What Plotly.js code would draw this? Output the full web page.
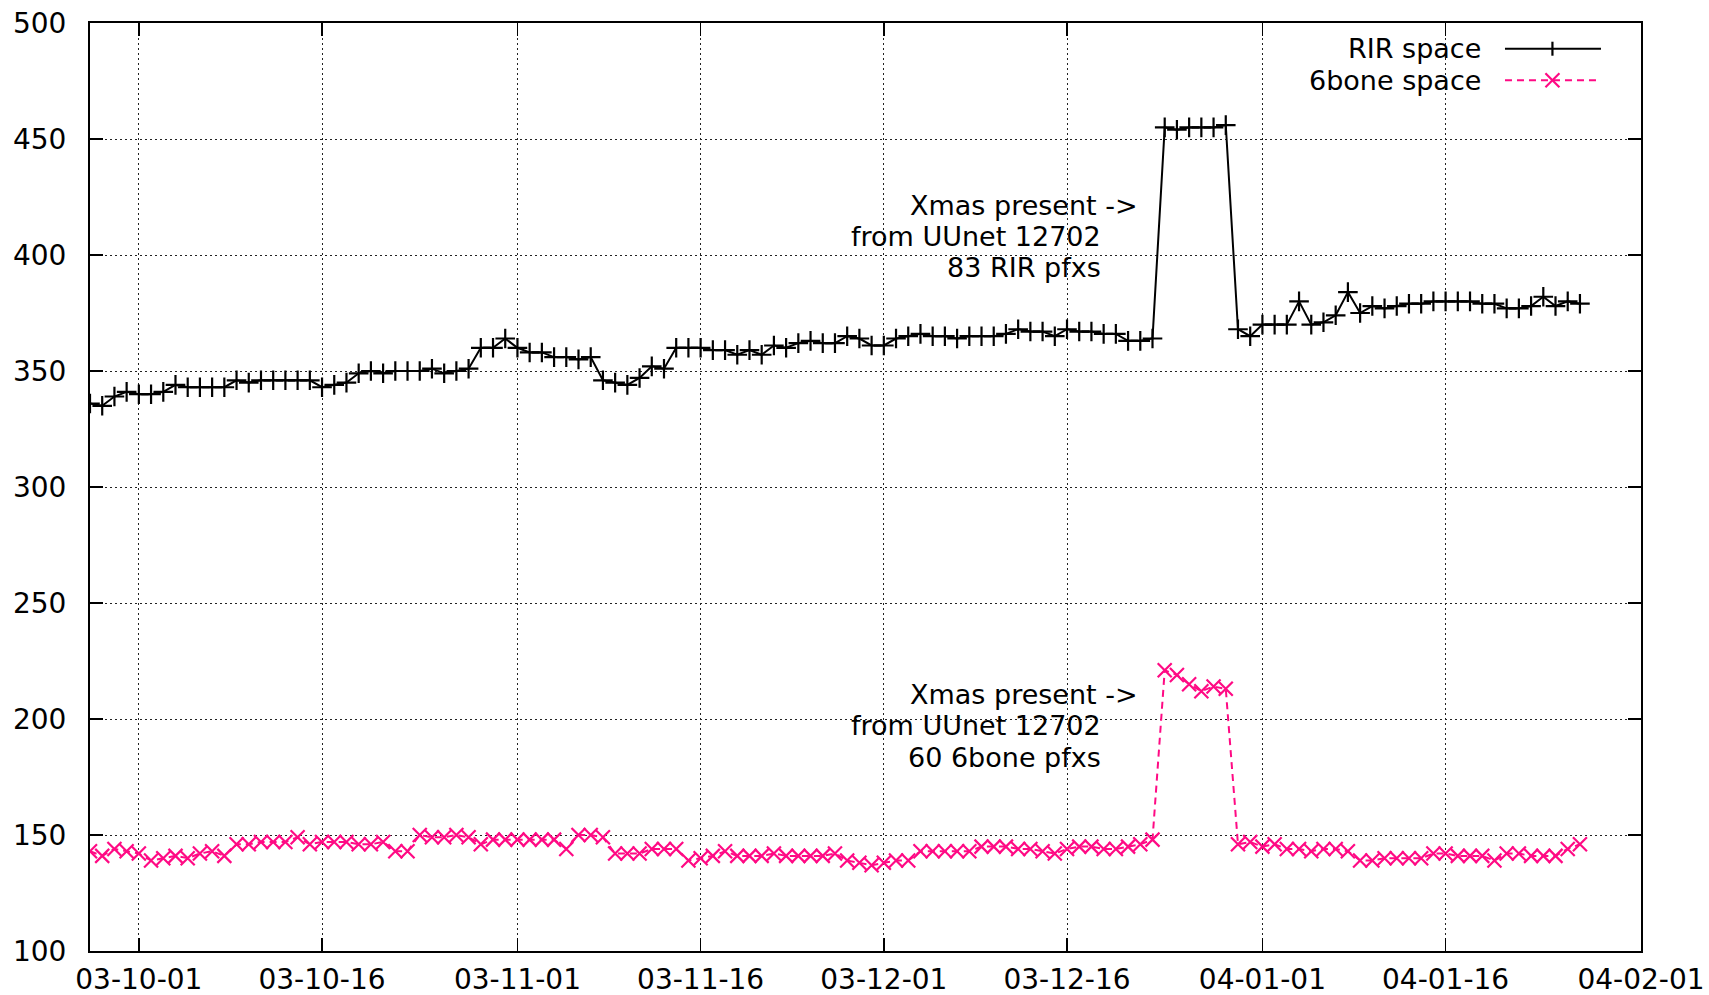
<!DOCTYPE html>
<html><head><meta charset="utf-8">
<script src="https://cdn.plot.ly/plotly-3.0.1.min.js"></script>
<style>html,body{margin:0;padding:0;background:#fff}#chart{width:1709px;height:995px}</style>
</head><body><div id="chart"></div><script>
const dates = [
'2003-09-27','2003-09-28','2003-09-29','2003-09-30',
'2003-10-01','2003-10-02','2003-10-03','2003-10-04','2003-10-05','2003-10-06','2003-10-07','2003-10-08','2003-10-09','2003-10-10',
'2003-10-11','2003-10-12','2003-10-13','2003-10-14','2003-10-15','2003-10-16','2003-10-17','2003-10-18','2003-10-19','2003-10-20',
'2003-10-21','2003-10-22','2003-10-23','2003-10-24','2003-10-25','2003-10-26','2003-10-27','2003-10-28','2003-10-29','2003-10-30','2003-10-31',
'2003-11-01','2003-11-02','2003-11-03','2003-11-04','2003-11-05','2003-11-06','2003-11-07','2003-11-08','2003-11-09','2003-11-10',
'2003-11-11','2003-11-12','2003-11-13','2003-11-14','2003-11-15','2003-11-16','2003-11-17','2003-11-18','2003-11-19','2003-11-20',
'2003-11-21','2003-11-22','2003-11-23','2003-11-24','2003-11-25','2003-11-26','2003-11-27','2003-11-28','2003-11-29','2003-11-30',
'2003-12-01','2003-12-02','2003-12-03','2003-12-04','2003-12-05','2003-12-06','2003-12-07','2003-12-08','2003-12-09','2003-12-10',
'2003-12-11','2003-12-12','2003-12-13','2003-12-14','2003-12-15','2003-12-16','2003-12-17','2003-12-18','2003-12-19','2003-12-20',
'2003-12-21','2003-12-22','2003-12-23','2003-12-24','2003-12-25','2003-12-26','2003-12-27','2003-12-28','2003-12-29','2003-12-30','2003-12-31',
'2004-01-01','2004-01-02','2004-01-03','2004-01-04','2004-01-05','2004-01-06','2004-01-07','2004-01-08','2004-01-09','2004-01-10',
'2004-01-11','2004-01-12','2004-01-13','2004-01-14','2004-01-15','2004-01-16','2004-01-17','2004-01-18','2004-01-19','2004-01-20',
'2004-01-21','2004-01-22','2004-01-23','2004-01-24','2004-01-25','2004-01-26','2004-01-27'
];
const rirSpace = [
336,335,339,341,
340,340,341,344,343,343,343,343,346,345,346,346,346,346,346,343,344,345,349,350,349,350,350,350,351,349,350,351,360,360,364,
360,358,358,356,356,355,356,346,345,344,347,352,351,360,360,360,359,359,357,359,357,361,360,362,363,362,362,365,364,361,
361,364,365,366,365,365,364,365,365,365,366,368,367,367,365,368,367,367,366,366,363,363,364,455,454,455,455,455,456,368,365,
370,370,370,380,370,371,374,384,375,378,377,378,379,379,380,380,380,380,379,379,377,377,378,382,378,380,379
];
const sixboneSpace = [
143,141,144,143,
142,139,140,141,140,142,143,141,146,146,147,147,147,149,146,147,147,147,146,146,147,143,143,150,149,149,150,149,146,148,148,
148,148,148,148,144,150,150,149,142,142,142,144,144,144,139,140,141,143,141,141,141,142,141,141,141,141,142,139,138,137,
138,139,139,143,143,143,143,143,145,145,145,144,144,143,142,144,145,145,144,144,145,146,148,221,219,215,212,214,213,146,147,
145,146,144,144,143,144,144,143,139,139,140,140,140,140,142,142,141,141,141,139,142,142,141,141,141,144,146
];
const seriesNames = ['RIR space', '6bone space'];
const xRange = ['2003-09-27', '2004-02-01'];
const tickDates = ['2003-10-01','2003-10-16','2003-11-01','2003-11-16','2003-12-01','2003-12-16','2004-01-01','2004-01-16','2004-02-01'];
const tickLabels = ['03-10-01','03-10-16','03-11-01','03-11-16','03-12-01','03-12-16','04-01-01','04-01-16','04-02-01'];
const yTicks = [100,150,200,250,300,350,400,450,500];
const rirNote = ['Xmas present ->', 'from UUnet 12702', '83 RIR pfxs'];
const sixboneNote = ['Xmas present ->', 'from UUnet 12702', '60 6bone pfxs'];

const BLACK = '#000000';
const PINK = '#ff0a84';
const FONT = {family: 'DejaVu Sans', size: 28, color: '#000'};
const NOTE_FONT = {family: 'DejaVu Sans', size: 27, color: '#000'};

const traces = [
  {x: dates, y: rirSpace, name: seriesNames[0], type: 'scatter', mode: 'lines+markers',
   line: {color: BLACK, width: 2},
   marker: {symbol: 'cross-thin', size: 14, color: BLACK, line: {color: BLACK, width: 2.2}},
   showlegend: false},
  {x: dates, y: sixboneSpace, name: seriesNames[1], type: 'scatter', mode: 'lines+markers',
   line: {color: PINK, width: 2, dash: '7px,5px'},
   marker: {symbol: 'x-thin', size: 14, color: PINK, line: {color: PINK, width: 2.2}},
   showlegend: false}
];

const axisCommon = {
  ticks: 'inside', ticklen: 13, tickwidth: 1.5, tickcolor: '#000',
  showline: true, linecolor: '#000', linewidth: 2, mirror: 'ticks',
  showgrid: true, gridcolor: '#222', griddash: '1.5px,3.5px', gridwidth: 1,
  zeroline: false, tickfont: FONT
};

function noteAnnots(lines, xs, ys) {
  return lines.map((t, i) => ({
    text: t, xref: 'paper', yref: 'paper', x: xs[i], y: ys[i],
    xanchor: 'right', yanchor: 'middle', showarrow: false, font: NOTE_FONT, borderpad: 0
  }));
}

// legend (gnuplot style: text left of sample)
const legX = 0.8978, legY = [0.9723, 0.9383];
const sampX0 = 0.9123, sampX1 = 0.9742, sampXc = 0.9429;
const annotations = []
  .concat(noteAnnots(rirNote, [0.6763, 0.6525, 0.6525], [0.8038, 0.7699, 0.7360]))
  .concat(noteAnnots(sixboneNote, [0.6763, 0.6525, 0.6525], [0.2764, 0.2425, 0.2086]))
  .concat(seriesNames.map((n, i) => ({
    text: n, xref: 'paper', yref: 'paper', x: legX, y: legY[i],
    xanchor: 'right', yanchor: 'middle', showarrow: false, font: NOTE_FONT, borderpad: 0
  })));

const shapes = [
  {type: 'line', xref: 'paper', yref: 'paper', x0: sampX0, x1: sampX1, y0: legY[0], y1: legY[0],
   line: {color: BLACK, width: 2}},
  {type: 'line', xref: 'paper', yref: 'paper', x0: sampX0, x1: sampX1, y0: legY[1], y1: legY[1],
   line: {color: PINK, width: 2, dash: '7px,5px'}},
  {type: 'line', xref: 'paper', yref: 'paper', xsizemode: 'pixel', ysizemode: 'pixel',
   xanchor: sampXc, yanchor: legY[0], x0: 0, x1: 0, y0: -7, y1: 7, line: {color: BLACK, width: 2.2}},
  {type: 'line', xref: 'paper', yref: 'paper', xsizemode: 'pixel', ysizemode: 'pixel',
   xanchor: sampXc, yanchor: legY[1], x0: -7, x1: 7, y0: -7, y1: 7, line: {color: PINK, width: 2.2}},
  {type: 'line', xref: 'paper', yref: 'paper', xsizemode: 'pixel', ysizemode: 'pixel',
   xanchor: sampXc, yanchor: legY[1], x0: -7, x1: 7, y0: 7, y1: -7, line: {color: PINK, width: 2.2}}
];

const layout = {
  width: 1709, height: 995,
  margin: {l: 90, r: 68, t: 23, b: 44, pad: 0},
  paper_bgcolor: '#fff', plot_bgcolor: '#fff',
  font: FONT,
  showlegend: false,
  xaxis: Object.assign({}, axisCommon, {
    type: 'date', range: xRange, tickmode: 'array', tickvals: tickDates, ticktext: tickLabels,
    ticklabelstandoff: 2
  }),
  yaxis: Object.assign({}, axisCommon, {
    range: [yTicks[0], yTicks[yTicks.length - 1]],
    tickmode: 'array', tickvals: yTicks, ticklabelstandoff: 16
  }),
  annotations: annotations,
  shapes: shapes
};

Plotly.newPlot('chart', traces, layout, {displayModeBar: false, staticPlot: true});
</script></body></html>
